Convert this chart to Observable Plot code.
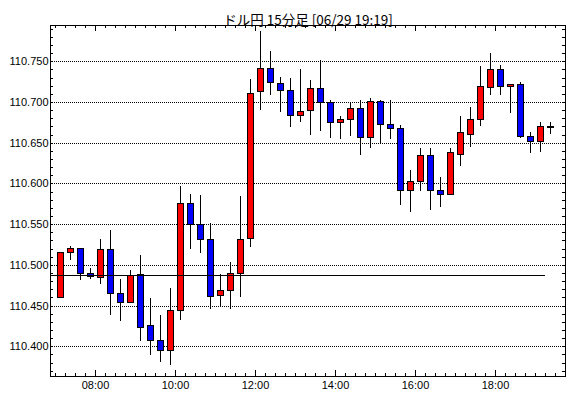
<!DOCTYPE html>
<html><head><meta charset="utf-8">
<script src="https://cdn.jsdelivr.net/npm/d3@7"></script>
<script src="https://cdn.jsdelivr.net/npm/@observablehq/plot@0.6"></script>
<style>body{margin:0;background:#fff} svg line, svg rect, svg path {shape-rendering: crispEdges;}</style>
</head><body><div id="chart"></div>
<script>
const title = "ドル円 15分足 [06/29 19:19]";
const day = "2018-06-29";
const times = ["07:00","07:15","07:30","07:45","08:00","08:15","08:30","08:45","09:00","09:15",
  "09:30","09:45","10:00","10:15","10:30","10:45","11:00","11:15","11:30","11:45",
  "12:00","12:15","12:30","12:45","13:00","13:15","13:30","13:45","14:00","14:15",
  "14:30","14:45","15:00","15:15","15:30","15:45","16:00","16:15","16:30","16:45",
  "17:00","17:15","17:30","17:45","18:00","18:15","18:30","18:45","19:00","19:15"];
const open = [110.460,110.515,110.520,110.490,110.485,110.519,110.465,110.454,110.488,110.425,
  110.407,110.395,110.444,110.575,110.549,110.531,110.462,110.468,110.489,110.532,
  110.713,110.741,110.723,110.714,110.683,110.689,110.717,110.699,110.675,110.678,
  110.692,110.656,110.701,110.672,110.667,110.591,110.602,110.634,110.591,110.587,
  110.635,110.660,110.678,110.718,110.740,110.719,110.722,110.658,110.651,110.670];
const high = [110.516,110.523,110.520,110.496,110.532,110.543,110.483,110.494,110.512,110.459,
  110.438,110.472,110.597,110.587,110.586,110.552,110.489,110.504,110.584,110.728,
  110.787,110.763,110.731,110.730,110.741,110.727,110.752,110.702,110.683,110.700,
  110.702,110.705,110.703,110.703,110.672,110.616,110.643,110.643,110.608,110.643,
  110.683,110.694,110.744,110.760,110.746,110.721,110.724,110.663,110.675,110.676];
const low = [110.460,110.506,110.481,110.483,110.477,110.438,110.431,110.454,110.406,110.389,
  110.381,110.377,110.432,110.520,110.514,110.446,110.449,110.446,110.461,110.522,
  110.690,110.709,110.688,110.669,110.675,110.660,110.664,110.656,110.654,110.658,
  110.635,110.643,110.650,110.654,110.573,110.565,110.591,110.567,110.571,110.587,
  110.622,110.645,110.671,110.708,110.709,110.687,110.656,110.637,110.639,110.661];
const close = [110.515,110.520,110.489,110.486,110.519,110.465,110.454,110.487,110.423,110.407,
  110.395,110.444,110.575,110.549,110.531,110.461,110.468,110.490,110.531,110.711,
  110.741,110.724,110.714,110.683,110.688,110.717,110.699,110.675,110.678,110.692,
  110.656,110.701,110.672,110.667,110.591,110.602,110.634,110.591,110.587,110.638,
  110.662,110.679,110.719,110.740,110.719,110.721,110.658,110.651,110.670,110.670];
const gridValues = [110.40,110.45,110.50,110.55,110.60,110.65,110.70,110.75];
const gridLabels = ["110.400","110.450","110.500","110.550","110.600","110.650","110.700","110.750"];
const hourTicks = ["08:00","10:00","12:00","14:00","16:00","18:00"];
const baseLevel = 110.487;
const baseEnd = "19:15";
const xStart = "06:52:30", xEnd = "19:45";
const yDomain = [110.3636, 110.7945];

const T = s => new Date(`${day}T${s.length === 5 ? s + ":00" : s}Z`);
const addMin = (d, m) => new Date(+d + m * 60000);
const candles = times.map((t, i) => ({t: T(t), open: open[i], high: high[i], low: low[i], close: close[i]}));
const up = candles.filter(d => d.close > d.open);
const down = candles.filter(d => d.close < d.open);
const doji = candles.filter(d => d.close === d.open);

const W = 570, H = 398, mL = 50, mR = 5, mT = 25, mB = 22;
const fw = W - mL - mR, fh = H - mT - mB;
const minorX = d3.utcMinute.every(15).range(T("07:00"), T("19:45"));
const majorX = hourTicks.map(T);
const minorY = d3.range(37, 80).map(i => 110 + i / 100);

const bx1 = d => addMin(d.t, 3), bx2 = d => addMin(d.t, 12);

const chart = Plot.plot({
  width: W, height: H,
  marginLeft: mL, marginRight: mR, marginTop: mT, marginBottom: mB,
  style: {fontFamily: "'Liberation Sans', Arial, sans-serif", fontSize: "11px", background: "#fff", color: "#000"},
  x: {type: "utc", domain: [T(xStart), T(xEnd)], axis: null},
  y: {domain: yDomain, axis: null},
  marks: [
    Plot.ruleY(gridValues, {stroke: "#000", strokeDasharray: "1,1"}),
    Plot.ruleX(candles, {x: d => addMin(d.t, 7.5), y1: "low", y2: "high", stroke: "#000"}),
    Plot.rect(up, {x1: bx1, x2: bx2, y1: "open", y2: "close", fill: "#ff0000", stroke: "#000"}),
    Plot.rect(down, {x1: bx1, x2: bx2, y1: "open", y2: "close", fill: "#0000ff", stroke: "#000"}),
    Plot.ruleY(doji, {y: "open", x1: bx1, x2: d => addMin(d.t, 13.5), stroke: "#000", strokeWidth: 2}),
    Plot.ruleY([baseLevel], {x1: T(xStart), x2: T(baseEnd), stroke: "#000"}),
    Plot.frame({stroke: "#000"}),
    Plot.ruleY(minorY, {stroke: "#000", insetRight: fw - 3}),
    Plot.ruleY(minorY, {stroke: "#000", insetLeft: fw - 3}),
    Plot.ruleX(minorX, {stroke: "#000", insetTop: fh - 3}),
    Plot.ruleX(minorX, {stroke: "#000", insetBottom: fh - 3}),
    Plot.ruleX(majorX, {stroke: "#000", insetTop: fh - 6}),
    Plot.ruleX(majorX, {stroke: "#000", insetBottom: fh - 6}),
    Plot.text(gridValues, {y: d => d, text: (d, i) => gridLabels[i], frameAnchor: "left", textAnchor: "end", dx: -2, fill: "#000"}),
    Plot.text(majorX, {x: d => d, text: (d, i) => hourTicks[i], frameAnchor: "bottom", dy: 12, fill: "#000"}),
    Plot.text([title], {text: d => d, frameAnchor: "top", dy: -10, fontFamily: "'Noto Sans CJK JP', sans-serif", fontSize: 13.5, fill: "#000"})
  ]
});
document.getElementById("chart").appendChild(chart);
</script>
</body></html>
